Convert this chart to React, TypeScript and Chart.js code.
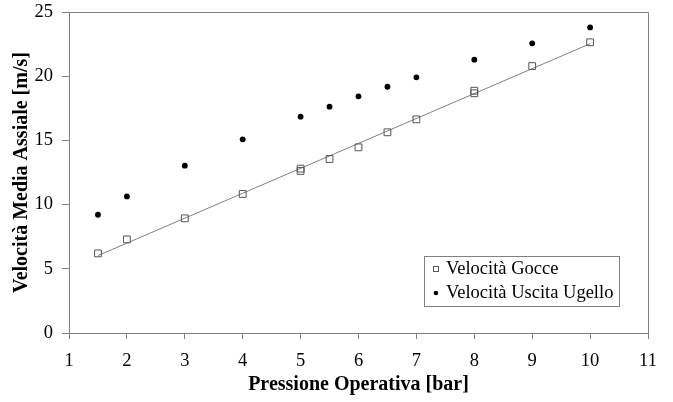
import React, { useEffect, useRef } from 'react';
import { Chart, registerables } from 'chart.js';

Chart.register(...registerables);

// Velocità Gocce (squares)
const pressureGocce = [1.5, 2, 3, 4, 5, 5, 5.5, 6, 6.5, 7, 8, 8, 9, 10];
const speedGocce = [6.2, 7.29, 8.93, 10.83, 12.8, 12.62, 13.55, 14.46, 15.63, 16.64, 18.87, 18.67, 20.79, 22.64];

// Velocità Uscita Ugello (dots)
const pressureUgello = [1.5, 2, 3, 4, 5, 5.5, 6, 6.5, 7, 8, 9, 10];
const speedUgello = [9.21, 10.64, 13.03, 15.08, 16.85, 17.63, 18.43, 19.18, 19.91, 21.29, 22.56, 23.8];

const xTickValues = [1, 2, 3, 4, 5, 6, 7, 8, 9, 10, 11];
const yTickValues = [0, 5, 10, 15, 20, 25];

const seriesLabels = ['Velocità Gocce', 'Velocità Uscita Ugello'];
const xTitle = 'Pressione Operativa [bar]';
const yTitle = 'Velocità Media Assiale [m/s]';

const FONT = "'Liberation Serif', 'Times New Roman', serif";
const GRAY = '#808080';

function linearFit(xs: number[], ys: number[]) {
  const n = xs.length;
  const mx = xs.reduce((a, b) => a + b, 0) / n;
  const my = ys.reduce((a, b) => a + b, 0) / n;
  let sxy = 0;
  let sxx = 0;
  for (let i = 0; i < n; i++) {
    sxy += (xs[i] - mx) * (ys[i] - my);
    sxx += (xs[i] - mx) * (xs[i] - mx);
  }
  const slope = sxy / sxx;
  return { slope, intercept: my - slope * mx };
}

const legendPlugin = {
  id: 'boxLegend',
  afterDraw(chart: any) {
    const { ctx, chartArea } = chart;
    const left = chartArea.left + (chartArea.right - chartArea.left) * 0.613;
    const top = chartArea.top + (chartArea.bottom - chartArea.top) * 0.76;
    const w = 195;
    const h = 50;
    ctx.save();
    ctx.fillStyle = '#ffffff';
    ctx.fillRect(left, top, w, h);
    ctx.strokeStyle = GRAY;
    ctx.lineWidth = 1;
    ctx.strokeRect(Math.round(left) + 0.5, Math.round(top) + 0.5, w, h);
    ctx.font = `18.5px ${FONT}`;
    ctx.fillStyle = '#000';
    ctx.textBaseline = 'middle';
    ctx.textAlign = 'left';
    const rows = [top + 13, top + 37];
    // square marker
    ctx.strokeStyle = '#555';
    ctx.strokeRect(Math.round(left + 9) + 0.5, Math.round(rows[0] - 2.5) + 0.5, 5, 5);
    ctx.fillText(seriesLabels[0], left + 22, rows[0]);
    // dot marker
    ctx.beginPath();
    ctx.arc(left + 12, rows[1], 2.3, 0, Math.PI * 2);
    ctx.fillStyle = '#000';
    ctx.fill();
    ctx.fillText(seriesLabels[1], left + 22, rows[1]);
    ctx.restore();
  },
};

const framePlugin = {
  id: 'frame',
  afterDatasetsDraw(chart: any) {
    const { ctx, chartArea } = chart;
    ctx.save();
    ctx.strokeStyle = GRAY;
    ctx.lineWidth = 1;
    ctx.beginPath();
    const l = Math.round(chartArea.left) + 0.5;
    const r = Math.round(chartArea.right) + 0.5;
    const t = Math.round(chartArea.top) + 0.5;
    const b = Math.round(chartArea.bottom) + 0.5;
    ctx.moveTo(l, t);
    ctx.lineTo(r, t);
    ctx.lineTo(r, b);
    ctx.stroke();
    ctx.restore();
  },
};

export default function App() {
  const canvasRef = useRef<HTMLCanvasElement | null>(null);

  useEffect(() => {
    document.body.style.margin = '0';
    const canvas = canvasRef.current;
    if (!canvas) return;
    const fit = linearFit(pressureGocce, speedGocce);
    const xMin = Math.min(...pressureGocce);
    const xMax = Math.max(...pressureGocce);
    const trend = [
      { x: xMin, y: fit.intercept + fit.slope * xMin },
      { x: xMax, y: fit.intercept + fit.slope * xMax },
    ];

    const chart = new Chart(canvas, {
      type: 'scatter',
      data: {
        datasets: [
          {
            label: 'Trend',
            data: trend,
            showLine: true,
            borderColor: GRAY,
            borderWidth: 1,
            pointRadius: 0,
            order: 3,
          },
          {
            label: seriesLabels[0],
            data: pressureGocce.map((x, i) => ({ x, y: speedGocce[i] })),
            pointStyle: 'rect',
            pointRadius: 4.8,
            borderColor: '#555555',
            borderWidth: 1,
            backgroundColor: 'rgba(255,255,255,0)',
            order: 2,
          },
          {
            label: seriesLabels[1],
            data: pressureUgello.map((x, i) => ({ x, y: speedUgello[i] })),
            pointStyle: 'circle',
            pointRadius: 2.9,
            borderWidth: 0,
            backgroundColor: '#000000',
            order: 1,
          },
        ],
      },
      options: {
        responsive: false,
        animation: false,
        layout: { padding: { top: 12, right: 25, left: 0, bottom: 0 } },
        plugins: {
          legend: { display: false },
          tooltip: { enabled: false },
        },
        scales: {
          x: {
            type: 'linear',
            min: xTickValues[0],
            max: xTickValues[xTickValues.length - 1],
            afterBuildTicks: (scale: any) => {
              scale.ticks = xTickValues.map((v) => ({ value: v }));
            },
            afterFit: (scale: any) => {
              scale.height = 69;
            },
            ticks: {
              color: '#000',
              font: { family: FONT, size: 18.5 },
              padding: 11,
              maxRotation: 0,
              autoSkip: false,
            },
            grid: {
              drawOnChartArea: false,
              tickLength: 6,
              color: GRAY,
            },
            border: { color: GRAY },
            title: {
              display: true,
              text: xTitle,
              color: '#000',
              font: { family: FONT, size: 20, weight: 'bold' },
              padding: { top: 0, bottom: 5 },
            },
          },
          y: {
            type: 'linear',
            min: yTickValues[0],
            max: yTickValues[yTickValues.length - 1],
            afterBuildTicks: (scale: any) => {
              scale.ticks = yTickValues.map((v) => ({ value: v }));
            },
            afterFit: (scale: any) => {
              scale.width = 69;
              scale.paddingTop = 0;
              scale.paddingBottom = 0;
            },
            ticks: {
              color: '#000',
              font: { family: FONT, size: 18.5 },
              padding: 9,
            },
            grid: {
              drawOnChartArea: false,
              tickLength: 7,
              color: GRAY,
            },
            border: { color: GRAY },
            title: {
              display: true,
              text: yTitle,
              color: '#000',
              font: { family: FONT, size: 20, weight: 'bold' },
              padding: { top: 10, bottom: 0 },
            },
          },
        },
      },
      plugins: [framePlugin, legendPlugin],
    });
    return () => chart.destroy();
  }, []);

  return (
    <div style={{ width: 673, height: 402 }}>
      <canvas ref={canvasRef} width={673} height={402} style={{ display: 'block' }} />
    </div>
  );
}
